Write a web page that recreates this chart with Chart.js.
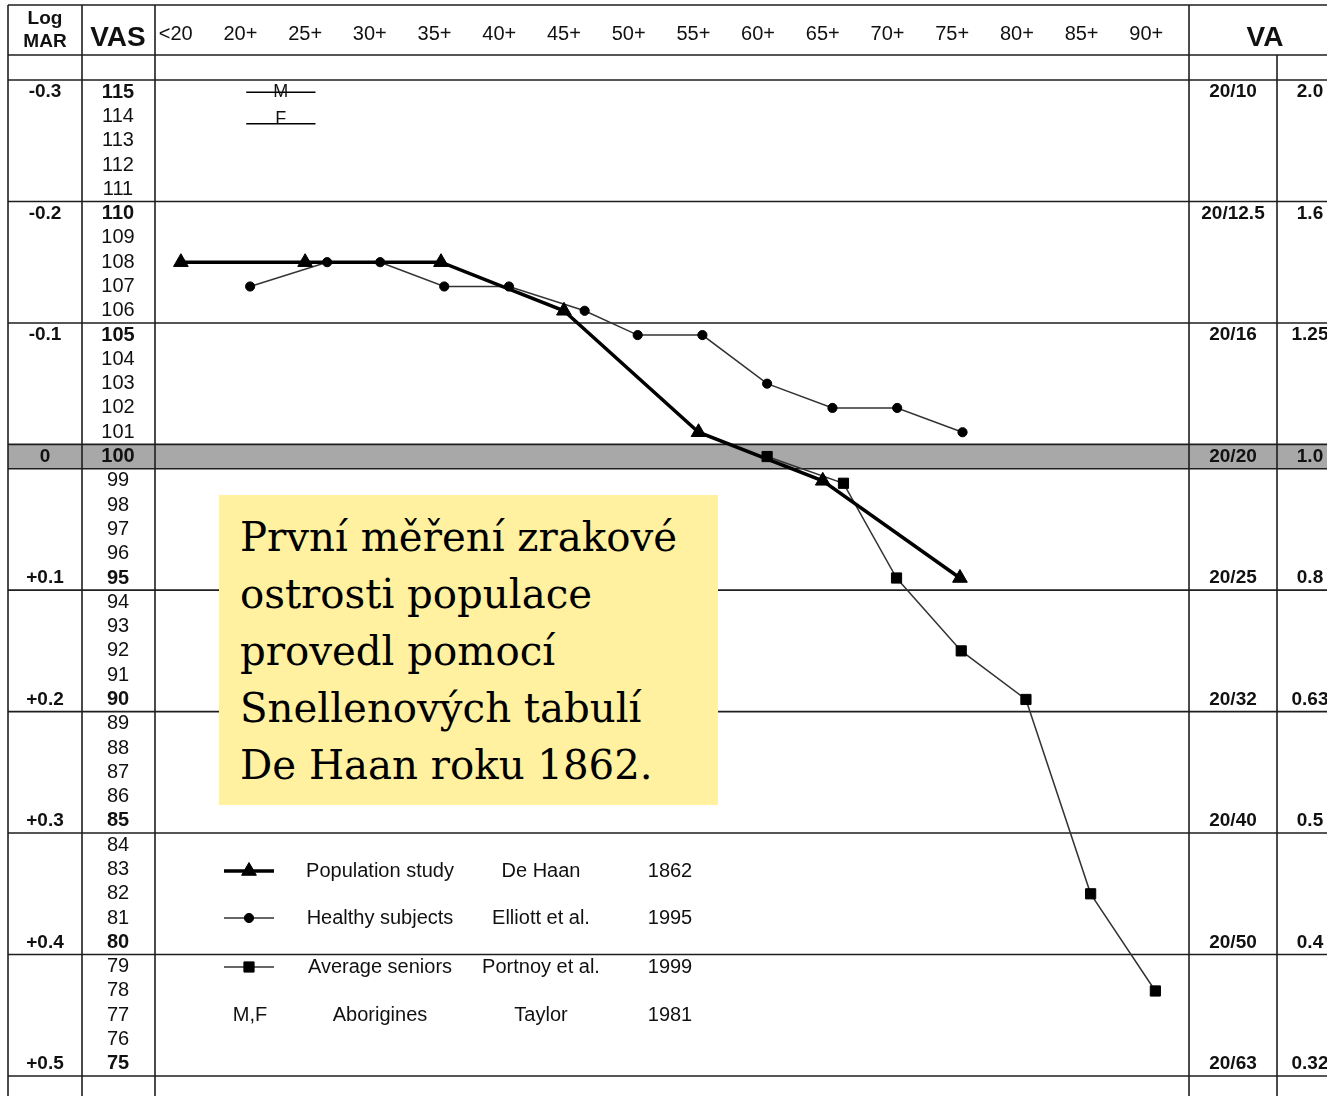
<!DOCTYPE html>
<html>
<head>
<meta charset="utf-8">
<title>VAS podle věku</title>
<script src="https://cdn.jsdelivr.net/npm/chart.js@4.4.1/dist/chart.umd.min.js"></script>
<style>
  html, body { margin: 0; padding: 0; background: #fff; }
  #wrap { position: relative; width: 1327px; height: 1096px; overflow: hidden; }
  #chart { position: absolute; left: 0; top: 0; }
  #note { position: absolute; left: 219px; top: 495px; width: 499px; height: 310px; background: #fff1a0; overflow: hidden; }
  #note div { position: absolute; left: 21px; top: 14px; font-family: 'DejaVu Serif', serif; font-size: 41px; line-height: 57px; color: #000; white-space: nowrap; transform-origin: 0 0; }
</style>
</head>
<body>
<div id="wrap">
  <canvas id="chart" width="1327" height="1096"></canvas>
  <div id="note"><div id="noteText">První měření zrakové<br>ostrosti populace<br>provedl pomocí<br>Snellenových tabulí<br>De Haan roku 1862.</div></div>
</div>
<script>
// age header
const ageLabels = ['<20', '20+', '25+', '30+', '35+', '40+', '45+', '50+', '55+', '60+', '65+', '70+', '75+', '80+', '85+', '90+'];
const ageTicks = [15, 20, 25, 30, 35, 40, 45, 50, 55, 60, 65, 70, 75, 80, 85, 90];

// row labels
const vasLabels = [115, 114, 113, 112, 111, 110, 109, 108, 107, 106, 105, 104, 103, 102, 101, 100,
  99, 98, 97, 96, 95, 94, 93, 92, 91, 90, 89, 88, 87, 86, 85, 84, 83, 82, 81, 80, 79, 78, 77, 76, 75];
const logMarVAS = [115, 110, 105, 100, 95, 90, 85, 80, 75];
const logMarLabels = ['-0.3', '-0.2', '-0.1', '0', '+0.1', '+0.2', '+0.3', '+0.4', '+0.5'];
const snellenLabels = ['20/10', '20/12.5', '20/16', '20/20', '20/25', '20/32', '20/40', '20/50', '20/63'];
const decimalLabels = ['2.0', '1.6', '1.25', '1.0', '0.8', '0.63', '0.5', '0.4', '0.32'];

// series
const deHaanAge = [15.4, 25, 35.5, 45, 55.4, 65, 75.6];
const deHaanVAS = [108, 108, 108, 106, 101, 99, 95];
const elliottAge = [20.75, 26.7, 30.8, 35.75, 40.75, 46.6, 50.7, 55.7, 60.7, 65.75, 70.75, 75.8];
const elliottVAS = [107, 108, 108, 107, 107, 106, 105, 105, 103, 102, 102, 101];
const portnoyAge = [60.7, 66.6, 70.7, 75.7, 80.7, 85.7, 90.7];
const portnoyVAS = [100, 98.9, 95, 92, 90, 82, 78];
const aborigineAge = [20.45, 25.8];
const aborigineMaleVAS = [115, 115];
const aborigineFemaleVAS = [113.7, 113.7];

// legend
const legendNames = ['Population study', 'Healthy subjects', 'Average seniors', 'Aborigines'];
const legendAuthors = ['De Haan', 'Elliott et al.', 'Portnoy et al.', 'Taylor'];
const legendYears = ['1862', '1995', '1999', '1981'];

const SANS = "'Liberation Sans', Arial, sans-serif";
const INK = '#111';
const RULE = '#1e1e1e';

function toXY(xs, ys) {
  return xs.map((x, i) => ({ x: x, y: ys[i] }));
}

function txt(ctx, s, x, y, font, align, base) {
  ctx.font = font;
  ctx.textAlign = align || 'center';
  ctx.textBaseline = base || 'middle';
  ctx.fillText(s, x, y);
}

function hline(ctx, x1, x2, y) {
  ctx.beginPath();
  ctx.moveTo(x1, y);
  ctx.lineTo(x2, y);
  ctx.stroke();
}

function vline(ctx, x, y1, y2) {
  ctx.beginPath();
  ctx.moveTo(x, y1);
  ctx.lineTo(x, y2);
  ctx.stroke();
}

// table frame, grey 100 row, all labels and the legend
const tablePlugin = {
  id: 'vasTable',
  beforeDatasetsDraw(chart) {
    const { ctx, chartArea, scales: { y } } = chart;
    const W = chart.width, H = chart.height;
    const colL = 8, colA = 82, colB = chartArea.left, colC = chartArea.right, colD = 1277;
    const top = 5, head = 55;
    ctx.save();
    // grey band for VAS 100
    ctx.fillStyle = '#a8a8a8';
    const g1 = y.getPixelForValue(100.5), g2 = y.getPixelForValue(99.5);
    ctx.fillRect(colL, g1, W - colL, g2 - g1);

    ctx.strokeStyle = RULE;
    ctx.lineWidth = 1.6;
    hline(ctx, colL, W, top);
    hline(ctx, colL, W, head);
    logMarVAS.forEach(v => {
      if (v >= 100) hline(ctx, colL, W, y.getPixelForValue(v + 0.5));
      if (v <= 100) hline(ctx, colL, W, y.getPixelForValue(v - 0.5));
    });
    [colL, colA, colB, colC].forEach(x => vline(ctx, x, top, H));
    vline(ctx, colD, head, H);
    ctx.restore();
  },
  afterDraw(chart) {
    const { ctx, chartArea, scales: { x, y } } = chart;
    ctx.save();
    ctx.fillStyle = INK;

    // header
    txt(ctx, 'Log', 45, 19, 'bold 19px ' + SANS);
    txt(ctx, 'MAR', 45, 42, 'bold 19px ' + SANS);
    txt(ctx, 'VAS', 118, 38, 'bold 28px ' + SANS);
    txt(ctx, 'VA', 1265, 38, 'bold 28px ' + SANS);
    ageLabels.forEach((s, i) => txt(ctx, s, x.getPixelForValue(ageTicks[i]), 34, '20px ' + SANS));

    // VAS column
    vasLabels.forEach(v => {
      txt(ctx, String(v), 118, y.getPixelForValue(v), (v % 5 === 0 ? 'bold ' : '') + '20px ' + SANS);
    });
    // LogMAR + VA columns
    logMarVAS.forEach((v, i) => {
      const py = y.getPixelForValue(v);
      txt(ctx, logMarLabels[i], 45, py, 'bold 19px ' + SANS);
      txt(ctx, snellenLabels[i], 1233, py, 'bold 19px ' + SANS);
      txt(ctx, decimalLabels[i], 1310, py, 'bold 19px ' + SANS);
    });

    // M / F marks on the aborigine lines
    const mx = x.getPixelForValue((aborigineAge[0] + aborigineAge[1]) / 2);
    txt(ctx, 'M', mx, y.getPixelForValue(aborigineMaleVAS[0]), '18px ' + SANS);
    txt(ctx, 'F', mx, y.getPixelForValue(aborigineFemaleVAS[0]), '18px ' + SANS, 'center', 'alphabetic');

    // legend
    const rows = [871, 918, 967, 1015];
    rows.forEach((ry, i) => {
      if (i < 3) {
        const ds = chart.data.datasets[i];
        ctx.strokeStyle = ds.borderColor;
        ctx.lineWidth = ds.borderWidth;
        hline(ctx, 224, 274, ry);
        ctx.fillStyle = '#000';
        ctx.strokeStyle = '#000';
        ctx.lineWidth = 1;
        Chart.helpers.drawPoint(ctx, { pointStyle: ds.pointStyle, radius: ds.pointRadius, rotation: 0, borderWidth: 1 }, 249, ry);
      } else {
        ctx.fillStyle = INK;
        txt(ctx, 'M,F', 250, ry, '20px ' + SANS);
      }
      ctx.fillStyle = INK;
      txt(ctx, legendNames[i], 380, ry, '20px ' + SANS);
      txt(ctx, legendAuthors[i], 541, ry, '20px ' + SANS);
      txt(ctx, legendYears[i], 670, ry, '20px ' + SANS);
    });
    ctx.restore();
  }
};

new Chart(document.getElementById('chart'), {
  type: 'line',
  data: {
    datasets: [
      {
        label: 'Population study',
        data: toXY(deHaanAge, deHaanVAS),
        borderColor: '#000',
        backgroundColor: '#000',
        borderWidth: 3.5,
        pointStyle: 'triangle',
        pointRadius: 8.5,
        pointBorderWidth: 1
      },
      {
        label: 'Healthy subjects',
        data: toXY(elliottAge, elliottVAS),
        borderColor: '#333',
        backgroundColor: '#000',
        pointBorderColor: '#000',
        borderWidth: 1.5,
        pointStyle: 'circle',
        pointRadius: 4.6,
        pointBorderWidth: 1
      },
      {
        label: 'Average seniors',
        data: toXY(portnoyAge, portnoyVAS),
        borderColor: '#333',
        backgroundColor: '#000',
        pointBorderColor: '#000',
        borderWidth: 1.5,
        pointStyle: 'rect',
        pointRadius: 7.2,
        pointBorderWidth: 1
      },
      {
        label: 'Aborigines M',
        data: toXY(aborigineAge, aborigineMaleVAS),
        borderColor: '#000',
        borderWidth: 1.5,
        pointRadius: 0
      },
      {
        label: 'Aborigines F',
        data: toXY(aborigineAge, aborigineFemaleVAS),
        borderColor: '#000',
        borderWidth: 1.5,
        pointRadius: 0
      }
    ]
  },
  options: {
    responsive: false,
    animation: false,
    devicePixelRatio: 1,
    events: [],
    layout: { padding: { left: 155, right: 138, top: 80, bottom: 20 } },
    scales: {
      x: { type: 'linear', min: 13.4, max: 93.3, display: false },
      y: { type: 'linear', min: 74.5, max: 115.5, display: false }
    },
    plugins: {
      legend: { display: false },
      tooltip: { enabled: false }
    }
  },
  plugins: [tablePlugin]
});

// squeeze the serif note text to the width of the original box text
const note = document.getElementById('noteText');
const mctx = document.createElement('canvas').getContext('2d');
mctx.font = "41px 'DejaVu Serif', serif";
const w = mctx.measureText('První měření zrakové').width;
note.style.transform = 'scaleX(' + (437 / w).toFixed(3) + ')';
</script>
</body>
</html>
